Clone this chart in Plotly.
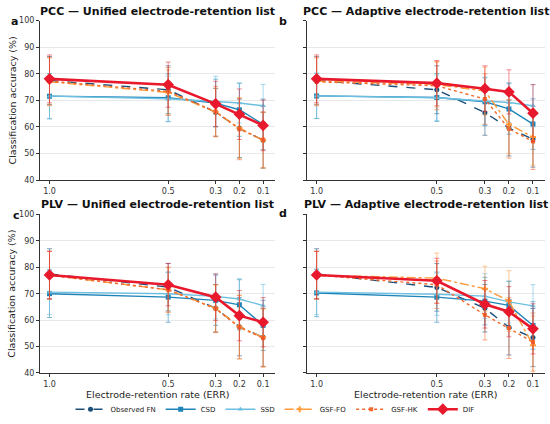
import plotly.graph_objects as go

err_rates = [1.0, 0.5, 0.3, 0.2, 0.1]
tick_labels = ["1.0", "0.5", "0.3", "0.2", "0.1"]
methods = ["Observed FN", "CSD", "SSD", "GSF-FO", "GSF-HK", "DIF"]
panel_titles = ["PCC — Unified electrode-retention list",
                "PCC — Adaptive electrode-retention list",
                "PLV — Unified electrode-retention list",
                "PLV — Adaptive electrode-retention list"]
panel_letters = ["a", "b", "c", "d"]

# Panel a: PCC unified
a_fn = [77.5, 74.0, 65.5, 59.5, 55.0]
a_csd = [71.6, 71.0, 69.0, 66.5, 61.0]
a_ssd = [71.6, 70.6, 69.6, 69.0, 68.0]
a_fo = [77.0, 73.0, 65.6, 59.6, 55.0]
a_hk = [77.2, 73.4, 65.8, 59.2, 55.2]
a_dif = [78.1, 75.9, 68.7, 64.8, 60.6]
a_fn_e = [9.0, 9.0, 9.0, 11.0, 10.5]
a_csd_e = [8.5, 9.0, 9.0, 10.0, 9.5]
a_ssd_e = [8.5, 8.5, 9.5, 7.5, 8.0]
a_fo_e = [9.0, 8.5, 9.0, 11.5, 10.5]
a_hk_e = [9.0, 9.0, 9.5, 11.5, 10.5]
a_dif_e = [9.0, 8.5, 8.5, 9.5, 9.5]

# Panel b: PCC adaptive
b_fn = [77.5, 74.0, 65.4, 59.6, 55.4]
b_csd = [71.7, 71.1, 69.5, 66.8, 61.1]
b_ssd = [71.7, 71.0, 69.8, 69.2, 68.0]
b_fo = [77.3, 76.0, 73.5, 61.0, 56.2]
b_hk = [77.0, 75.5, 70.5, 59.3, 54.5]
b_dif = [78.1, 76.5, 74.4, 73.2, 65.2]
b_fn_e = [9.0, 9.0, 8.5, 10.5, 10.5]
b_csd_e = [8.5, 9.0, 9.0, 9.5, 9.5]
b_ssd_e = [8.5, 8.5, 9.0, 7.5, 8.0]
b_fo_e = [9.0, 8.5, 9.0, 11.0, 10.5]
b_hk_e = [9.0, 9.0, 9.5, 11.0, 10.5]
b_dif_e = [9.0, 8.5, 8.6, 8.3, 10.7]

# Panel c: PLV unified
c_fn = [77.5, 72.5, 64.5, 57.5, 53.5]
c_csd = [70.0, 68.7, 67.5, 65.8, 58.0]
c_ssd = [70.6, 70.0, 69.0, 68.0, 65.5]
c_fo = [77.0, 71.5, 64.5, 57.5, 53.5]
c_hk = [77.0, 71.5, 64.3, 57.3, 53.2]
c_dif = [77.1, 73.4, 68.7, 61.7, 59.2]
c_fn_e = [9.5, 9.0, 9.0, 11.0, 11.0]
c_csd_e = [9.0, 9.5, 9.5, 9.5, 9.5]
c_ssd_e = [8.5, 8.0, 8.5, 7.7, 8.0]
c_fo_e = [9.0, 8.5, 9.0, 12.0, 11.0]
c_hk_e = [9.0, 8.5, 9.0, 12.0, 11.0]
c_dif_e = [9.0, 8.0, 8.8, 9.5, 9.3]

# Panel d: PLV adaptive
d_fn = [77.5, 72.4, 64.5, 57.3, 53.4]
d_csd = [70.3, 68.7, 67.2, 65.6, 58.0]
d_ssd = [70.6, 69.8, 69.1, 66.9, 65.4]
d_fo = [77.0, 75.9, 71.9, 67.2, 50.5]
d_hk = [77.0, 73.4, 62.0, 57.0, 51.7]
d_dif = [77.1, 74.9, 66.0, 63.2, 56.7]
d_fn_e = [9.5, 9.0, 9.0, 10.5, 11.0]
d_csd_e = [9.0, 9.5, 9.0, 9.0, 9.0]
d_ssd_e = [8.5, 8.0, 8.5, 8.0, 8.0]
d_fo_e = [9.0, 9.5, 8.5, 11.5, 11.0]
d_hk_e = [9.0, 9.0, 9.5, 11.5, 11.0]
d_dif_e = [9.0, 8.5, 9.0, 9.5, 9.5]

panels = [
    ([a_fn, a_csd, a_ssd, a_fo, a_hk, a_dif], [a_fn_e, a_csd_e, a_ssd_e, a_fo_e, a_hk_e, a_dif_e]),
    ([b_fn, b_csd, b_ssd, b_fo, b_hk, b_dif], [b_fn_e, b_csd_e, b_ssd_e, b_fo_e, b_hk_e, b_dif_e]),
    ([c_fn, c_csd, c_ssd, c_fo, c_hk, c_dif], [c_fn_e, c_csd_e, c_ssd_e, c_fo_e, c_hk_e, c_dif_e]),
    ([d_fn, d_csd, d_ssd, d_fo, d_hk, d_dif], [d_fn_e, d_csd_e, d_ssd_e, d_fo_e, d_hk_e, d_dif_e]),
]

styles = {
    "Observed FN": dict(color="#1b4f7a", err="rgba(27,79,122,0.55)", dash="dash", width=1.4, symbol="circle", size=5),
    "CSD": dict(color="#1f84b8", err="rgba(31,132,184,0.55)", dash="solid", width=1.4, symbol="square", size=5),
    "SSD": dict(color="#6cbfe0", err="rgba(108,191,224,0.6)", dash="solid", width=1.4, symbol="triangle-up", size=5),
    "GSF-FO": dict(color="#ff9b3a", err="rgba(255,155,58,0.55)", dash="dashdot", width=1.4, symbol="cross", size=5),
    "GSF-HK": dict(color="#f26a2e", err="rgba(242,106,46,0.55)", dash="dot", width=1.4, symbol="square", size=4),
    "DIF": dict(color="#e8192c", err="rgba(232,25,44,0.5)", dash="solid", width=2.6, symbol="diamond", size=9),
}

W, H = 550, 424
# plot areas in pixels (left, right, top, bottom)
areas = [(40, 275, 17, 180), (307, 545, 17, 180), (40, 275, 215, 377), (307, 545, 215, 377)]

fig = go.Figure()
font_family = "DejaVu Sans"

for i, ((vals, errs), (l, r, t, b)) in enumerate(zip(panels, areas)):
    ax = "" if i == 0 else str(i + 1)
    for name, v, e in zip(methods, vals, errs):
        s = styles[name]
        fig.add_trace(go.Scatter(
            x=err_rates, y=v, mode="lines+markers", name=name,
            xaxis="x" + ax, yaxis="y" + ax, showlegend=(i == 0), legendgroup=name,
            line=dict(color=s["color"], dash=s["dash"], width=s["width"]),
            marker=dict(symbol=s["symbol"], size=s["size"], color=s["color"]),
            error_y=dict(type="data", array=e, visible=True, color=s["err"], thickness=1, width=2.5),
        ))
    xd = [l / W, r / W]
    yd = [1 - b / H, 1 - t / H]
    fig.layout["xaxis" + ax] = dict(
        domain=xd, range=[1.04, 0.05], tickvals=err_rates, ticktext=tick_labels,
        showgrid=False, zeroline=False, showline=True, linecolor="#333333", linewidth=1,
        ticks="outside", ticklen=3, tickcolor="#333333",
        tickfont=dict(size=8, color="#333333", family=font_family), anchor="y" + ax,
    )
    fig.layout["yaxis" + ax] = dict(
        domain=yd, range=[40, 100], tickvals=[40, 50, 60, 70, 80, 90, 100],
        showticklabels=(i % 2 == 0),
        showgrid=True, gridcolor="#e8e8e8", gridwidth=1, zeroline=False,
        showline=True, linecolor="#333333", linewidth=1,
        ticks="outside", ticklen=3, tickcolor="#333333",
        tickfont=dict(size=8, color="#333333", family=font_family), anchor="x" + ax,
    )

annotations = []
title_y = [8, 8, 205, 205]
letter_pos = [(14, 18), (283, 18), (16, 216), (283, 214)]
for i, (l, r, t, b) in enumerate(areas):
    annotations.append(dict(text="<b>" + panel_titles[i] + "</b>", x=(l + r) / 2 / W, y=1 - title_y[i] / H,
                            xref="paper", yref="paper", showarrow=False, xanchor="center", yanchor="middle",
                            font=dict(size=11, color="#111111", family=font_family)))
    lx, ly = letter_pos[i]
    annotations.append(dict(text="<b>" + panel_letters[i] + "</b>", x=lx / W, y=1 - ly / H,
                            xref="paper", yref="paper", showarrow=False, xanchor="center", yanchor="middle",
                            font=dict(size=11, color="#111111", family=font_family)))
# axis titles
for i in (0, 2):
    l, r, t, b = areas[i]
    annotations.append(dict(text="Classification accuracy (%)", x=12 / W, y=1 - (t + b) / 2 / H,
                            xref="paper", yref="paper", showarrow=False, textangle=-90,
                            xanchor="center", yanchor="middle",
                            font=dict(size=9.5, color="#222222", family=font_family)))
for i in (2, 3):
    l, r, t, b = areas[i]
    annotations.append(dict(text="Electrode-retention rate (ERR)", x=(l + r) / 2 / W, y=1 - 399 / H,
                            xref="paper", yref="paper", showarrow=False,
                            xanchor="center", yanchor="middle",
                            font=dict(size=9.5, color="#222222", family=font_family)))

fig.update_layout(
    width=W, height=H, margin=dict(l=0, r=0, t=0, b=0),
    plot_bgcolor="white", paper_bgcolor="white",
    font=dict(family=font_family, color="#222222"),
    annotations=annotations,
    legend=dict(orientation="h", x=0.5, xanchor="center", y=1 - 414 / H, yanchor="middle",
                font=dict(size=7, color="#222222", family=font_family), itemwidth=30,
                bgcolor="rgba(0,0,0,0)"),
)

fig.write_html("out.html", config={"displayModeBar": False},
               post_script="document.body.style.margin='0';document.body.style.overflow='hidden';")
